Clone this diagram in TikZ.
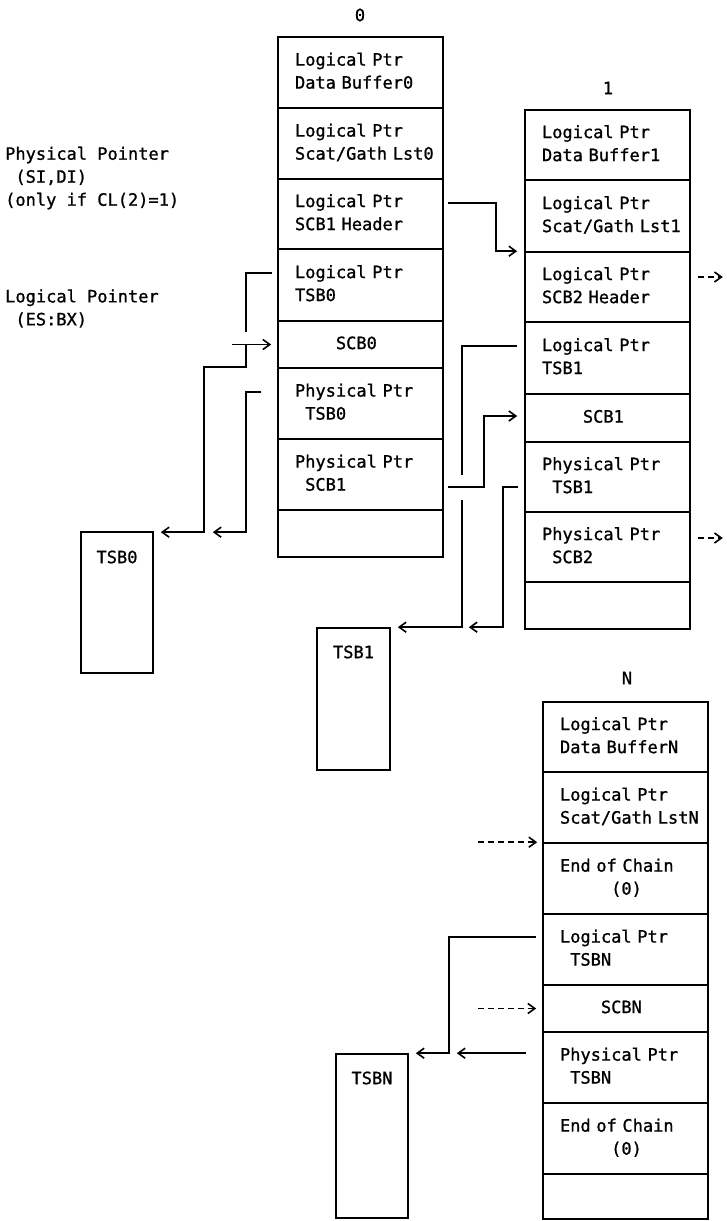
\documentclass[tikz,border=0pt]{standalone}
\usepackage{fontspec}
\newfontfamily\monof{DejaVu Sans Mono}[FakeBold=1.0]
\usetikzlibrary{arrows.meta}
\newcommand\spc{\phantom{0}}
\newcommand\tl[2]{\strut#1\\\strut#2}
\begin{document}
\begin{tikzpicture}[x=1pt,y=-1pt,
 every node/.style={font=\monof\fontsize{17}{23}\selectfont},
 cell/.style={draw, line width=1.6pt, minimum width=165pt, text width=131pt, inner xsep=17pt, inner ysep=0pt, align=left},
 box/.style={draw, line width=1.6pt, inner sep=0pt},
 conn/.style={line width=1.6pt},
 arr/.style={conn, -{Straight Barb[length=7pt,width=10pt]}},
 darr/.style={arr, dash pattern=on 6pt off 4pt},
 plain/.style={inner sep=0pt}
]
\useasboundingbox[fill=white] (0,0) rectangle (726,1221);

% labels
\node[plain] (lab0) at (360,15) {0};
\node[plain] (lab1) at (608,88) {1};
\node[plain] (labN) at (627,678) {N};
\node[plain, anchor=west, align=left] (physlab) at (5,178) {Physical Pointer\\\spc(SI,DI)\\(only if CL(2)=1)};
\node[plain, anchor=west, align=left] (loglab) at (5,308.5) {Logical Pointer\\\spc(ES:BX)};

% block 0
\node[cell, minimum height=71] (b0r1) at (360.5,72.5) {\tl{Logical Ptr}{Data Buffer0}};
\node[cell, minimum height=71] (b0r2) at (360.5,143.5) {\tl{Logical Ptr}{Scat/Gath~Lst0}};
\node[cell, minimum height=70] (b0r3) at (360.5,214) {\tl{Logical Ptr}{SCB1 Header}};
\node[cell, minimum height=72] (b0r4) at (360.5,285) {\tl{Logical Ptr}{TSB0}};
\node[cell, minimum height=47] (b0r5) at (360.5,344.5) {\strut\spc\spc\spc\spc{}SCB0};
\node[cell, minimum height=71] (b0r6) at (360.5,403.5) {\tl{Physical Ptr}{\spc{}TSB0}};
\node[cell, minimum height=71] (b0r7) at (360.5,474.5) {\tl{Physical Ptr}{\spc{}SCB1}};
\node[cell, minimum height=47] (b0r8) at (360.5,533.5) {};

% block 1
\node[cell, minimum height=70] (b1r1) at (607.5,145) {\tl{Logical Ptr}{Data Buffer1}};
\node[cell, minimum height=72] (b1r2) at (607.5,216) {\tl{Logical Ptr}{Scat/Gath~Lst1}};
\node[cell, minimum height=70] (b1r3) at (607.5,287) {\tl{Logical Ptr}{SCB2 Header}};
\node[cell, minimum height=72] (b1r4) at (607.5,358) {\tl{Logical Ptr}{TSB1}};
\node[cell, minimum height=48] (b1r5) at (607.5,418) {\strut\spc\spc\spc\spc{}SCB1};
\node[cell, minimum height=70] (b1r6) at (607.5,477) {\tl{Physical Ptr}{\spc{}TSB1}};
\node[cell, minimum height=70] (b1r7) at (607.5,547) {\tl{Physical Ptr}{\spc{}SCB2}};
\node[cell, minimum height=47] (b1r8) at (607.5,605.5) {};

% block N
\node[cell, minimum height=70] (bNr1) at (625.5,737) {\tl{Logical Ptr}{Data BufferN}};
\node[cell, minimum height=71] (bNr2) at (625.5,807.5) {\tl{Logical Ptr}{Scat/Gath~LstN}};
\node[cell, minimum height=71] (bNr3) at (625.5,878.5) {\tl{End of Chain}{\spc\spc\spc\spc\spc(0)}};
\node[cell, minimum height=71] (bNr4) at (625.5,949.5) {\tl{Logical Ptr}{\spc{}TSBN}};
\node[cell, minimum height=47] (bNr5) at (625.5,1008.5) {\strut\spc\spc\spc\spc{}SCBN};
\node[cell, minimum height=71] (bNr6) at (625.5,1067.5) {\tl{Physical Ptr}{\spc{}TSBN}};
\node[cell, minimum height=71] (bNr7) at (625.5,1138.5) {\tl{End of Chain}{\spc\spc\spc\spc\spc(0)}};
\node[cell, minimum height=45] (bNr8) at (625.5,1196.5) {};

% TSB boxes
\node[box, minimum width=72, minimum height=141] (tsb0) at (117,602.5) {};
\node[plain] (tsb0t) at (117,557) {TSB0};
\node[box, minimum width=73, minimum height=142] (tsb1) at (353.5,699) {};
\node[plain] (tsb1t) at (353.5,652) {TSB1};
\node[box, minimum width=72, minimum height=164] (tsbN) at (372,1136) {};
\node[plain] (tsbNt) at (372,1078) {TSBN};

% free ends
\coordinate (entry) at (232,344.5);
\coordinate (inN1) at (478,842.2);
\coordinate (inN2) at (478,1008.5);

% block 0 connectors
\draw[arr] ([shift={(4,-11)}]b0r3.east) -- ++(48,0) |- ([xshift=-7pt]b1r3.north west);
\draw[arr] (entry) -- ([xshift=-6pt]b0r5.west);
\draw[conn] ([shift={(-5,-12)}]b0r4.west) -- ++(-26,0) -- ++(0,59);
\draw[arr] ([xshift=-31pt]b0r5.west) -- ++(0,22.5) -- ++(-42,0) |- ([shift={(7,1)}]tsb0.north east);
\draw[arr] ([shift={(-16,-11.5)}]b0r6.west) -- ++(-15,0) |- ([shift={(59,1)}]tsb0.north east);
\draw[arr] ([shift={(4,12.5)}]b0r7.east) -- ++(36,0) |- ([shift={(-7,-2)}]b1r5.west);

% block 1 connectors
\draw[darr] ([shift={(7,-10)}]b1r3.east) -- ++(25,0);
\draw[darr] ([shift={(7,-9)}]b1r7.east) -- ++(25,0);
\draw[conn] ([shift={(-7,-12)}]b1r4.west) -- ++(-55,0) -- ++(0,129);
\draw[arr] ([shift={(-62,23)}]b1r6.west) |- ([xshift=7pt]tsb1.north east);
\draw[arr] ([shift={(-6,10)}]b1r6.west) -- ++(-15,0) |- ([xshift=78pt]tsb1.north east);

% block N connectors
\draw[darr] (inN1) -- ([xshift=-5pt]bNr3.north west);
\draw[darr] (inN2) -- ([xshift=-6pt]bNr5.west);
\draw[arr] ([shift={(-6,-12.5)}]bNr4.west) -- ++(-87,0) |- ([xshift=7pt]tsbN.north east);
\draw[arr] ([shift={(-16,-14.3)}]bNr6.west) -- ([xshift=48pt]tsbN.north east);
\end{tikzpicture}
\end{document}
